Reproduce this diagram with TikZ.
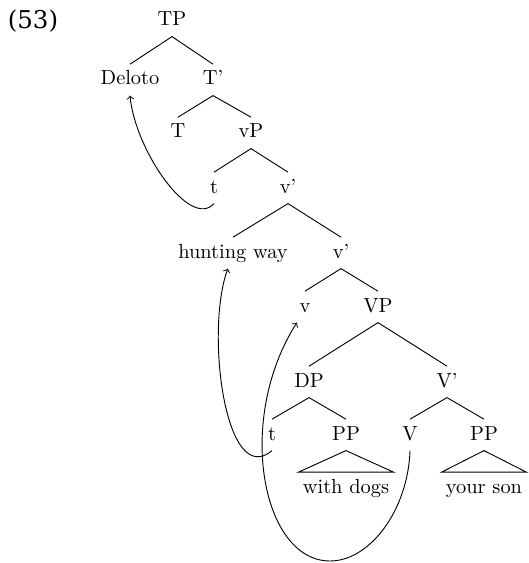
\documentclass[tikz,border=0pt]{standalone}
\usepackage{fontspec}
\newfontfamily\exfont{DejaVu Serif}
\begin{document}
\begin{tikzpicture}[x=0.49pt,y=-0.49pt,
  lab/.style={anchor=base,inner sep=3pt,text height=7pt,text depth=2pt},
  tri/.style={anchor=base,inner xsep=2pt,inner ysep=3pt,text height=7pt,text depth=2pt},
  branch/.style={line width=0.45pt},
  mv/.style={->,line width=0.45pt}]
\useasboundingbox (0,0) rectangle (529,563);
\node[anchor=base,inner sep=0pt,font=\exfont\fontsize{12}{14}\selectfont] (ex) at (33,29) {(53)};
\node[lab] (TP) at (172,26) {TP};
\node[lab] (Del) at (130,85) {Deloto};
\node[lab] (T1) at (213,85) {T'};
\node[lab] (T) at (178,138) {T};
\node[lab] (vP) at (251,138) {vP};
\node[lab] (t1) at (214,193) {t};
\node[lab] (v1) at (288,193) {v'};
\node[lab] (hw) at (233,258) {hunting way};
\node[lab] (v2) at (341,258) {v'};
\node[lab] (v) at (305,312) {v};
\node[lab] (VP) at (378,312) {VP};
\node[lab] (DP) at (309,387) {DP};
\node[lab] (V1) at (447,387) {V'};
\node[lab] (t2) at (272,440) {t};
\node[lab] (PP1) at (346,440) {PP};
\node[lab] (V) at (410,440) {V};
\node[lab] (PP2) at (484,440) {PP};
\node[tri] (wd) at (346,493) {with dogs};
\node[tri] (ys) at (484,493) {your son};
\draw[branch] (Del.north) -- (TP.south) -- (T1.north);
\draw[branch] (T.north) -- (T1.south) -- (vP.north);
\draw[branch] (t1.north) -- (vP.south) -- (v1.north);
\draw[branch] (hw.north) -- (v1.south) -- (v2.north);
\draw[branch] (v.north) -- (v2.south) -- (VP.north);
\draw[branch] (DP.north) -- (VP.south) -- (V1.north);
\draw[branch] (t2.north) -- (DP.south) -- (PP1.north);
\draw[branch] (V.north) -- (V1.south) -- (PP2.north);
\draw[branch] (PP1.south) -- (wd.north west) -- (wd.north east) -- cycle;
\draw[branch] (PP2.south) -- (ys.north west) -- (ys.north east) -- cycle;
\draw[mv] (t1.south) .. controls (190,230) and (135,150) .. (Del.south);
\draw[mv] (t2.south) .. controls (225,490) and (205,330) .. ([xshift=-2.5pt]hw.south);
\coordinate (loop) at (330,561);
\draw[mv] (V.south) .. controls (408,510) and (370,561) .. (loop) .. controls (262,561) and (235,420) .. ([xshift=-4pt]v.south);
\end{tikzpicture}
\end{document}
